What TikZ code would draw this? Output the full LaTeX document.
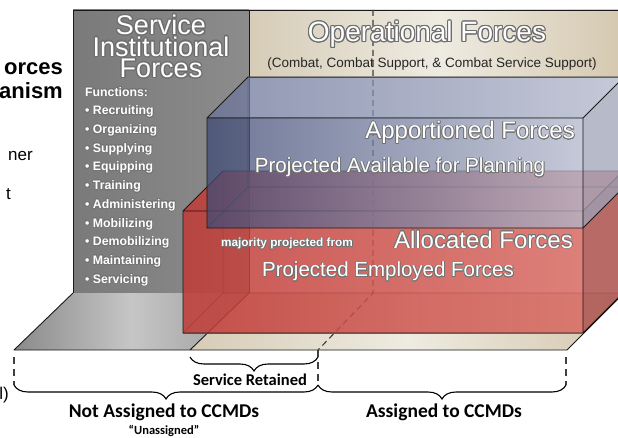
\documentclass[tikz,border=0pt]{standalone}
\usepackage{fontspec}
\setmainfont{Liberation Sans}
\newfontfamily\calibri{Carlito}
\usepackage{contour}
\usetikzlibrary{positioning,calc,decorations.pathreplacing}

\definecolor{wallgray}{HTML}{7A7A7A}
\definecolor{wallgrayR}{HTML}{8C8C8C}
\definecolor{tanL}{HTML}{D6CCB7}
\definecolor{tanM}{HTML}{EEEBE1}
\definecolor{tanR}{HTML}{D4C7AE}
\definecolor{floorL}{HTML}{8A8A8A}
\definecolor{floorM}{HTML}{C6C6C6}
\definecolor{floorR}{HTML}{9A9A9A}
\definecolor{redL}{HTML}{C03A36}
\definecolor{redR}{HTML}{D86A62}
\definecolor{redside}{HTML}{B05A56}
\definecolor{blueL}{HTML}{3F4A75}
\definecolor{blueR}{HTML}{B2B8CC}
\definecolor{bluetopL}{HTML}{6A7398}
\definecolor{blueside}{HTML}{9EA3B8}
\definecolor{rimgray}{HTML}{6E6E6E}

% white letters with a grey rim or a dark glow
\newcommand{\rimtext}[1]{{\contourlength{1.1pt}\contour{rimgray}{#1}}}
\newcommand{\glowtext}[1]{{\contourlength{0.7pt}\contour{black!55}{#1}}}

\begin{document}
\begin{tikzpicture}[x=1pt,y=-1pt,
  rim/.style={draw=black!90,line width=0.9pt,line join=round},
  hidden/.style={draw=black!80,line width=0.6pt},
  title/.style={text=white,align=center,font=\fontsize{27}{21.5}\selectfont},
  boxlabel/.style={text=white,inner sep=0pt,font=\fontsize{24}{26}\selectfont},
  sublabel/.style={text=white,inner sep=0pt,font=\fontsize{20.5}{22}\selectfont},
  tally/.style={inner sep=0pt,font=\calibri\bfseries\fontsize{19.5}{21}\selectfont},
  curly/.style={decorate,decoration={brace,amplitude=#1},line width=1.1pt},
  split/.style={draw=black!75,dash pattern=on 6pt off 4pt,line width=1.1pt},
  cut/.style={inner sep=0pt,anchor=east},
]
\useasboundingbox (0,0) rectangle (618,438);
\fill[white] (0,0) rectangle (618,438);

% floor and back walls
\coordinate (fl) at (14,350);
\coordinate (fm) at (190,350);
\coordinate (fr) at (567,350);
\coordinate (bl) at (73,293);
\coordinate (bm) at (249,293);
\coordinate (br) at (624,293);
\shade[rim,left color=wallgray,right color=wallgrayR] (73,10) rectangle (bm);
\shade[rim,left color=tanL,right color=tanR,middle color=tanM] (249,10) rectangle (630,77);
\shade[left color=floorL,right color=floorR,middle color=floorM] (fl) -- (fm) -- (bm) -- (bl) -- cycle;
\shade[left color=tanL,right color=tanR,middle color=tanM] (fm) -- (fr) -- (br) -- (bm) -- cycle;
\draw[rim] (bl) -- (fl) -- (fr) -- (br) (fm) -- (bm);

% assigned / unassigned split
\coordinate (dt) at (373,10);
\coordinate (db) at (373,293);
\coordinate (df) at (318,350);
\draw[split] (dt) -- (db) -- (df);

% allocated box
\coordinate (ra) at (183,211);
\coordinate (rb) at (583,211);
\coordinate (rc) at (583,333);
\coordinate (rd) at (183,333);
\draw[hidden] ($(ra)+(40,-40)$) -- ($(rd)+(40,-40)$) -- (rd) ($(rd)+(40,-40)$) -- ($(rc)+(40,-40)$);
\shade[fill opacity=0.85,left color=redL,right color=redR] (ra) -- ++(40,-40) -- ($(rb)+(40,-40)$) -- (rb) -- cycle;
\shade[fill opacity=0.85,left color=redL,right color=redR] (ra) -- (rb) -- (rc) -- (rd) -- cycle;
\fill[redside,fill opacity=0.9] (rb) -- ++(40,-40) -- ($(rc)+(40,-40)$) -- (rc) -- cycle;
\draw[rim] (ra) -- (rb) -- (rc) -- (rd) -- cycle
  (ra) -- ++(40,-40) -- ($(rb)+(40,-40)$) (rb) -- ++(40,-40) (rc) -- ++(40,-40);

% apportioned box
\coordinate (pa) at (207,118);
\coordinate (pb) at (583,118);
\coordinate (pc) at (583,228);
\coordinate (pd) at (207,228);
\draw[hidden] ($(pa)+(41,-41)$) -- ($(pd)+(41,-41)$) -- (pd) ($(pd)+(41,-41)$) -- ($(pc)+(41,-41)$);
\shade[fill opacity=0.75,left color=bluetopL,right color=blueR] (pa) -- ++(41,-41) -- ($(pb)+(41,-41)$) -- (pb) -- cycle;
\shade[fill opacity=0.75,left color=blueL,right color=blueR] (pa) -- (pb) -- (pc) -- (pd) -- cycle;
\fill[blueside,fill opacity=0.75] (pb) -- ++(41,-41) -- ($(pc)+(41,-41)$) -- (pc) -- cycle;
\draw[rim] (pa) -- (pb) -- (pc) -- (pd) -- cycle
  (pa) -- ++(41,-41) -- ($(pb)+(41,-41)$) (pb) -- ++(41,-41) (pc) -- ++(41,-41);

% wall titles
\node[title] (sif) at (161,47) {\rimtext{Service}\\\rimtext{Institutional}\\\rimtext{Forces}};
\node[title,font=\fontsize{28}{30}\selectfont] (opf) at (427,35) {\rimtext{Operational Forces}};
\node[text=black!85,inner sep=0pt,font=\fontsize{13.5}{15}\selectfont] (ops) at (432,64)
  {(Combat, Combat Support, \& Combat Service Support)};
\node[text=white,anchor=north west,inner sep=0pt,align=left,
  font=\bfseries\fontsize{12.3}{18.7}\selectfont] (fun) at (85,87)
  {\glowtext{Functions:}\\ \glowtext{\textbullet\ Recruiting}\\ \glowtext{\textbullet\ Organizing}\\
   \glowtext{\textbullet\ Supplying}\\ \glowtext{\textbullet\ Equipping}\\ \glowtext{\textbullet\ Training}\\
   \glowtext{\textbullet\ Administering}\\ \glowtext{\textbullet\ Mobilizing}\\ \glowtext{\textbullet\ Demobilizing}\\
   \glowtext{\textbullet\ Maintaining}\\ \glowtext{\textbullet\ Servicing}};

% box labels
\node[boxlabel,anchor=east] (app) at (575,133) {\glowtext{Apportioned Forces}};
\node[sublabel] (paf) at (400,168) {\glowtext{Projected Available for Planning}};
\node[boxlabel,anchor=east] (alf) at (573,240) {\glowtext{Allocated Forces}};
\node[text=white,inner sep=0pt,font=\bfseries\fontsize{11.8}{13}\selectfont] (maj) at (287,244) {\glowtext{majority projected from}};
\node[sublabel] (pef) at (388,272) {\glowtext{Projected Employed Forces}};

% cut-off slide text on the left
\node[cut,font=\bfseries\fontsize{22}{24}\selectfont] (ttl1) at (63,69) {orces};
\node[cut,font=\bfseries\fontsize{22}{24}\selectfont] (ttl2) at (63,91) {anism};
\node[cut,font=\fontsize{17}{19}\selectfont] (txt1) at (33,156) {ner};
\node[cut,font=\fontsize{17}{19}\selectfont] (txt2) at (11,194) {t};
\node[cut,font=\fontsize{17}{19}\selectfont] (txt3) at (9,395) {l)};

% brackets under the floor
\coordinate (sl) at (190,357);
\coordinate (sr) at (318,357);
\coordinate (gl) at (14,385);
\coordinate (gm) at (318,385);
\coordinate (gr) at (566,385);
\draw[split,dash pattern=on 7pt off 5pt] (14,357) -- (gl) (df) -- (gm) (566,357) -- (gr);
\draw[curly=14pt] (sr) -- (sl);
\draw[curly=14pt] (gm) -- (gl);
\draw[curly=14pt] (gr) -- (gm);
\node[tally,font=\calibri\bfseries\fontsize{16.5}{18}\selectfont] (ret) at (250,380) {Service Retained};
\node[tally] (nas) at (164,412) {Not Assigned to CCMDs};
\node[tally,font=\calibri\bfseries\fontsize{12.5}{14}\selectfont,below=4pt of nas] (una) {“Unassigned”};
\node[tally] (asg) at (444,412) {Assigned to CCMDs};
\end{tikzpicture}
\end{document}
